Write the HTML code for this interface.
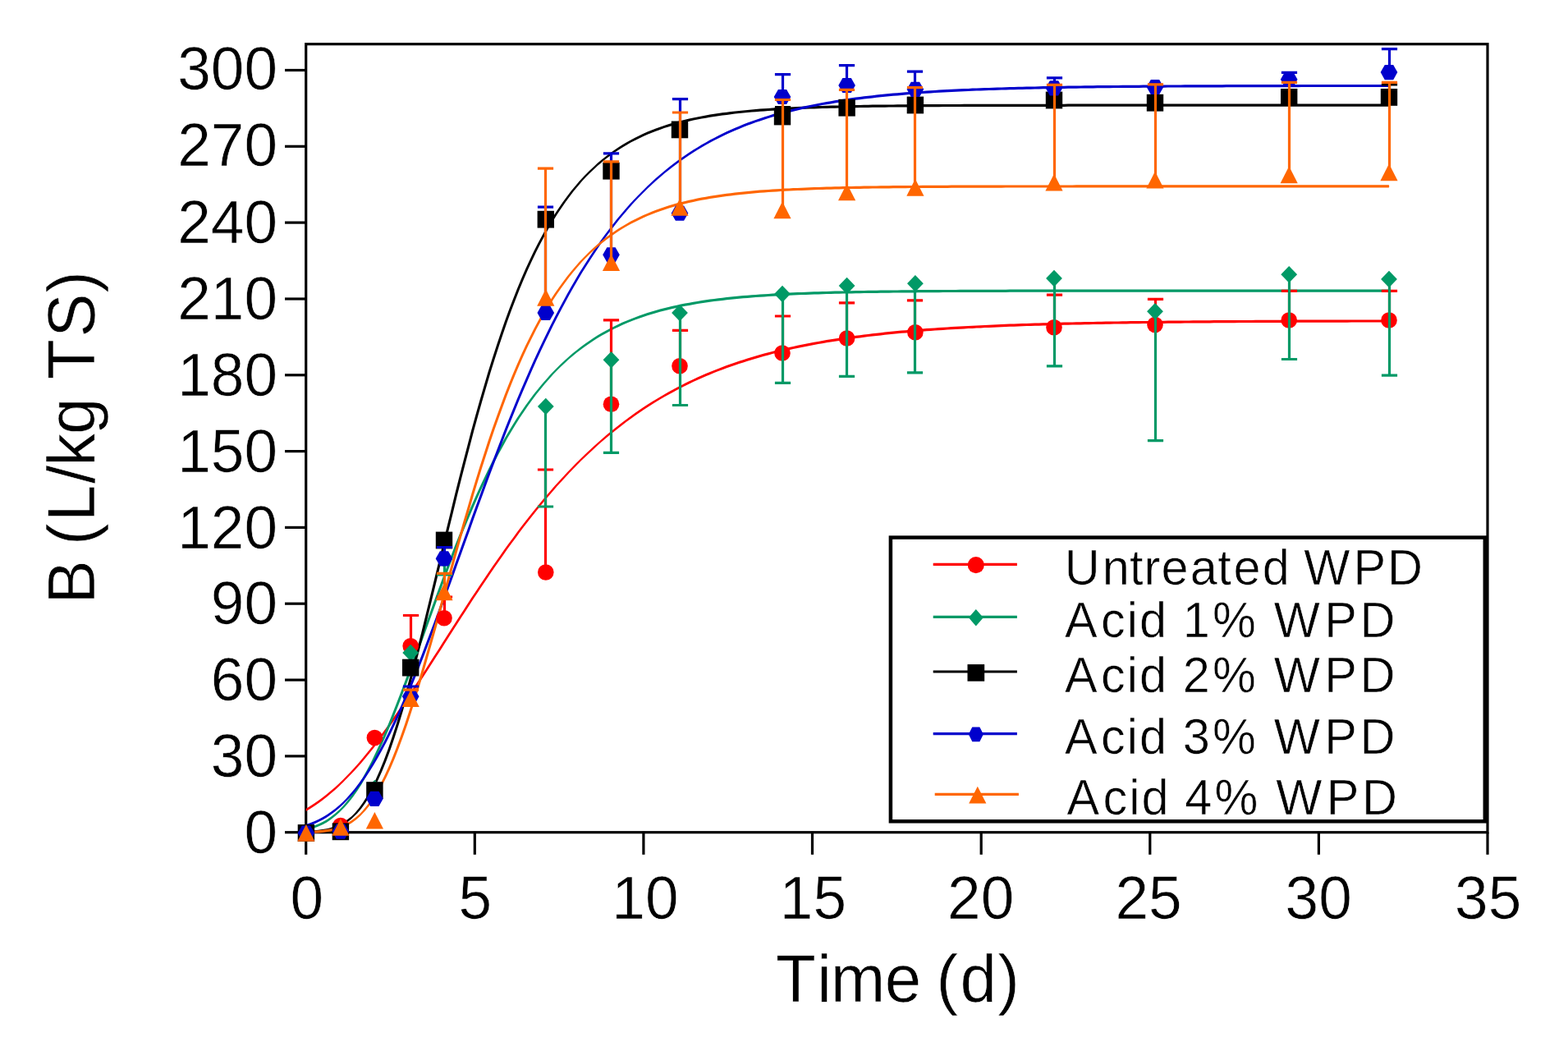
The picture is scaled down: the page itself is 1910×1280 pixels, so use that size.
<!DOCTYPE html>
<html lang="en"><head><meta charset="utf-8"><title>B (L/kg TS)</title>
<style>html,body{margin:0;padding:0;background:#fff}svg{display:block}text{font-family:"Liberation Sans",sans-serif;fill:#000;stroke:#fff;stroke-width:0.6px}</style>
</head><body>
<svg width="1910" height="1280" viewBox="0 0 1910 1280">
<rect x="0" y="0" width="1910" height="1280" fill="#ffffff"/>
<g>
<g stroke="#000" stroke-width="3.2" fill="none" stroke-linecap="butt">
<rect x="372.7" y="53.7" width="1439.3" height="960.0"/>
<line x1="347" y1="1013.7" x2="372.7" y2="1013.7"/>
<line x1="347" y1="920.9" x2="372.7" y2="920.9"/>
<line x1="347" y1="828.1" x2="372.7" y2="828.1"/>
<line x1="347" y1="735.2" x2="372.7" y2="735.2"/>
<line x1="347" y1="642.4" x2="372.7" y2="642.4"/>
<line x1="347" y1="549.6" x2="372.7" y2="549.6"/>
<line x1="347" y1="456.8" x2="372.7" y2="456.8"/>
<line x1="347" y1="364.0" x2="372.7" y2="364.0"/>
<line x1="347" y1="271.1" x2="372.7" y2="271.1"/>
<line x1="347" y1="178.3" x2="372.7" y2="178.3"/>
<line x1="347" y1="85.5" x2="372.7" y2="85.5"/>
<line x1="372.7" y1="1013.7" x2="372.7" y2="1040.8"/>
<line x1="578.3" y1="1013.7" x2="578.3" y2="1040.8"/>
<line x1="783.9" y1="1013.7" x2="783.9" y2="1040.8"/>
<line x1="989.5" y1="1013.7" x2="989.5" y2="1040.8"/>
<line x1="1195.2" y1="1013.7" x2="1195.2" y2="1040.8"/>
<line x1="1400.8" y1="1013.7" x2="1400.8" y2="1040.8"/>
<line x1="1606.4" y1="1013.7" x2="1606.4" y2="1040.8"/>
<line x1="1812.0" y1="1013.7" x2="1812.0" y2="1040.8"/>
</g>
<g stroke="none">
<polygon fill="#ff0000" points="372.7,986.5 372.7,984.9 377.8,981.8 382.8,978.5 387.9,975.0 393.0,971.3 398.1,967.3 403.1,963.1 408.2,958.7 413.3,954.0 418.4,949.1 421.8,945.6 426.9,940.2 432.0,934.7 437.1,928.9 442.1,922.9 447.2,916.8 452.3,910.4 457.3,903.9 462.4,897.2 467.5,890.4 472.6,883.4 477.6,876.2 482.7,868.9 487.8,861.6 492.9,854.1 497.9,846.5 503.0,838.8 508.1,831.1 513.2,823.3 518.2,815.4 523.3,807.5 528.4,799.6 533.5,791.7 538.5,783.7 543.6,775.8 548.7,767.8 553.7,759.9 558.8,752.0 563.9,744.2 569.0,736.3 574.0,728.6 579.1,720.9 584.2,713.2 589.3,705.7 594.3,698.2 599.4,690.8 604.5,683.5 609.6,676.2 614.6,669.1 619.7,662.1 624.8,655.2 629.8,648.3 634.9,641.6 640.0,635.0 645.1,628.6 650.1,622.2 655.2,615.9 660.3,609.8 665.4,603.8 670.4,597.9 675.5,592.1 680.6,586.5 685.7,581.0 690.7,575.5 695.8,570.3 700.9,565.1 707.5,558.4 712.6,553.5 717.7,548.7 722.8,544.0 727.8,539.4 732.9,534.9 738.0,530.6 743.1,526.3 748.1,522.2 753.2,518.2 758.3,514.2 763.4,510.4 768.4,506.7 773.5,503.1 778.6,499.6 783.7,496.1 788.7,492.8 793.8,489.6 798.9,486.4 803.9,483.4 809.0,480.4 814.1,477.5 819.2,474.7 824.2,472.0 829.3,469.4 834.4,466.8 839.5,464.3 844.5,461.9 849.6,459.6 854.7,457.3 859.8,455.1 864.8,453.0 869.9,450.9 875.0,448.9 880.0,447.0 885.1,445.1 890.2,443.3 895.3,441.5 900.3,439.8 905.4,438.2 910.5,436.5 915.6,435.0 920.6,433.5 925.7,432.0 930.8,430.6 935.9,429.2 940.9,427.9 946.0,426.6 951.1,425.4 956.1,424.2 961.2,423.0 966.3,421.9 971.4,420.8 976.4,419.8 981.5,418.7 986.6,417.8 991.7,416.8 996.7,415.9 1001.8,415.0 1006.9,414.1 1012.0,413.3 1017.0,412.5 1022.1,411.7 1027.2,410.9 1032.2,410.2 1037.3,409.5 1042.4,408.8 1047.5,408.2 1052.5,407.5 1057.6,406.9 1062.7,406.3 1067.8,405.7 1072.8,405.2 1077.9,404.6 1083.0,404.1 1088.1,403.6 1093.1,403.1 1098.2,402.6 1103.3,402.2 1108.4,401.7 1113.4,401.3 1118.5,400.9 1123.6,400.5 1128.6,400.1 1133.7,399.7 1138.8,399.4 1143.9,399.0 1148.9,398.7 1154.0,398.4 1159.1,398.1 1164.2,397.8 1169.2,397.5 1174.3,397.2 1179.4,396.9 1184.5,396.7 1189.5,396.4 1194.6,396.2 1199.7,395.9 1204.7,395.7 1209.8,395.5 1214.9,395.2 1220.0,395.0 1225.0,394.8 1230.1,394.6 1235.2,394.5 1240.3,394.3 1245.3,394.1 1250.4,393.9 1255.5,393.8 1260.6,393.6 1265.6,393.5 1270.7,393.3 1275.8,393.2 1280.8,393.0 1285.9,392.9 1291.0,392.8 1296.1,392.6 1301.1,392.5 1306.2,392.4 1311.3,392.3 1316.4,392.2 1321.4,392.1 1326.5,392.0 1331.6,391.9 1336.7,391.8 1341.7,391.7 1346.8,391.6 1351.9,391.5 1357.0,391.4 1362.0,391.4 1367.1,391.3 1372.2,391.2 1377.2,391.1 1382.3,391.1 1387.4,391.0 1392.5,390.9 1397.5,390.9 1402.6,390.8 1407.7,390.8 1412.8,390.7 1417.8,390.7 1422.9,390.6 1428.0,390.6 1433.1,390.5 1438.1,390.5 1443.2,390.4 1448.3,390.4 1453.3,390.3 1458.4,390.3 1463.5,390.2 1468.6,390.2 1473.6,390.2 1478.7,390.1 1483.8,390.1 1488.9,390.1 1493.9,390.0 1499.0,390.0 1504.1,390.0 1509.2,389.9 1514.2,389.9 1519.3,389.9 1524.4,389.9 1529.4,389.8 1534.5,389.8 1539.6,389.8 1544.7,389.8 1549.7,389.7 1554.8,389.7 1559.9,389.7 1565.0,389.7 1570.0,389.7 1575.1,389.6 1580.2,389.6 1585.3,389.6 1590.3,389.6 1595.4,389.6 1600.5,389.6 1605.6,389.5 1610.6,389.5 1615.7,389.5 1620.8,389.5 1625.8,389.5 1630.9,389.5 1636.0,389.5 1641.1,389.5 1646.1,389.4 1651.2,389.4 1656.3,389.4 1661.4,389.4 1666.4,389.4 1671.5,389.4 1676.6,389.4 1681.7,389.4 1686.7,389.4 1691.8,389.4 1692.3,391.0 1691.8,392.6 1686.7,392.6 1681.7,392.6 1676.6,392.6 1671.5,392.6 1666.4,392.6 1661.4,392.6 1656.3,392.6 1651.2,392.6 1646.1,392.6 1641.1,392.7 1636.0,392.7 1630.9,392.7 1625.8,392.7 1620.8,392.7 1615.7,392.7 1610.6,392.7 1605.6,392.7 1600.5,392.8 1595.4,392.8 1590.3,392.8 1585.3,392.8 1580.2,392.8 1575.1,392.8 1570.0,392.9 1565.0,392.9 1559.9,392.9 1554.8,392.9 1549.7,392.9 1544.7,393.0 1539.6,393.0 1534.5,393.0 1529.4,393.0 1524.4,393.1 1519.3,393.1 1514.2,393.1 1509.2,393.1 1504.1,393.2 1499.0,393.2 1493.9,393.2 1488.9,393.3 1483.8,393.3 1478.7,393.3 1473.6,393.4 1468.6,393.4 1463.5,393.4 1458.4,393.5 1453.3,393.5 1448.3,393.6 1443.2,393.6 1438.1,393.7 1433.1,393.7 1428.0,393.8 1422.9,393.8 1417.8,393.9 1412.8,393.9 1407.7,394.0 1402.6,394.0 1397.5,394.1 1392.5,394.1 1387.4,394.2 1382.3,394.3 1377.2,394.3 1372.2,394.4 1367.1,394.5 1362.0,394.6 1357.0,394.6 1351.9,394.7 1346.8,394.8 1341.7,394.9 1336.7,395.0 1331.6,395.1 1326.5,395.2 1321.4,395.3 1316.4,395.4 1311.3,395.5 1306.2,395.6 1301.1,395.7 1296.1,395.8 1291.0,396.0 1285.9,396.1 1280.8,396.2 1275.8,396.4 1270.7,396.5 1265.6,396.7 1260.6,396.8 1255.5,397.0 1250.4,397.1 1245.3,397.3 1240.3,397.5 1235.2,397.7 1230.1,397.8 1225.0,398.0 1220.0,398.2 1214.9,398.4 1209.8,398.7 1204.7,398.9 1199.7,399.1 1194.6,399.4 1189.5,399.6 1184.5,399.9 1179.4,400.1 1174.3,400.4 1169.2,400.7 1164.2,401.0 1159.1,401.3 1154.0,401.6 1148.9,401.9 1143.9,402.2 1138.8,402.6 1133.7,402.9 1128.6,403.3 1123.6,403.7 1118.5,404.1 1113.4,404.5 1108.4,404.9 1103.3,405.4 1098.2,405.8 1093.1,406.3 1088.1,406.8 1083.0,407.3 1077.9,407.8 1072.8,408.4 1067.8,408.9 1062.7,409.5 1057.6,410.1 1052.5,410.7 1047.5,411.4 1042.4,412.0 1037.3,412.7 1032.2,413.4 1027.2,414.1 1022.1,414.9 1017.0,415.7 1012.0,416.5 1006.9,417.3 1001.8,418.2 996.7,419.1 991.7,420.0 986.6,421.0 981.5,421.9 976.4,423.0 971.4,424.0 966.3,425.1 961.2,426.2 956.1,427.4 951.1,428.6 946.0,429.8 940.9,431.1 935.9,432.4 930.8,433.8 925.7,435.2 920.6,436.7 915.6,438.2 910.5,439.7 905.4,441.4 900.3,443.0 895.3,444.7 890.2,446.5 885.1,448.3 880.0,450.2 875.0,452.1 869.9,454.1 864.8,456.2 859.8,458.3 854.7,460.5 849.6,462.8 844.5,465.1 839.5,467.5 834.4,470.0 829.3,472.6 824.2,475.2 819.2,477.9 814.1,480.7 809.0,483.6 803.9,486.6 798.9,489.6 793.8,492.8 788.7,496.0 783.7,499.3 778.6,502.8 773.5,506.3 768.4,509.9 763.4,513.6 758.3,517.4 753.2,521.4 748.1,525.4 743.1,529.5 738.0,533.8 732.9,538.1 727.8,542.6 722.8,547.2 717.7,551.9 712.6,556.7 707.5,561.6 704.1,565.1 699.0,570.3 693.9,575.5 688.9,581.0 683.8,586.5 678.7,592.1 673.6,597.9 668.6,603.8 663.5,609.8 658.4,615.9 653.3,622.2 648.3,628.6 643.2,635.0 638.1,641.6 633.0,648.3 628.0,655.2 622.9,662.1 617.8,669.1 612.8,676.2 607.7,683.5 602.6,690.8 597.5,698.2 592.5,705.7 587.4,713.2 582.3,720.9 577.2,728.6 572.2,736.3 567.1,744.2 562.0,752.0 556.9,759.9 551.9,767.8 546.8,775.8 541.7,783.7 536.7,791.7 531.6,799.6 526.5,807.5 521.4,815.4 516.4,823.3 511.3,831.1 506.2,838.8 501.1,846.5 496.1,854.1 491.0,861.6 485.9,868.9 480.8,876.2 475.8,883.4 470.7,890.4 465.6,897.2 460.5,903.9 455.5,910.4 450.4,916.8 445.3,922.9 440.3,928.9 435.2,934.7 430.1,940.2 425.0,945.6 418.4,952.3 413.3,957.2 408.2,961.9 403.1,966.3 398.1,970.5 393.0,974.5 387.9,978.2 382.8,981.7 377.8,985.0 372.7,988.1"/>
<polygon fill="#009966" points="372.7,1009.9 372.7,1008.3 377.8,1007.0 382.8,1005.4 387.9,1003.4 393.0,1001.0 398.1,998.2 403.1,994.8 408.2,990.8 413.3,986.3 416.8,982.7 421.8,976.9 426.9,970.4 432.0,963.2 437.1,955.4 442.1,946.8 447.2,937.6 452.3,927.8 457.3,917.3 462.4,906.3 467.5,894.8 472.6,882.7 477.6,870.2 482.7,857.3 487.8,844.1 492.9,830.6 497.9,816.9 503.0,803.1 508.1,789.1 513.2,775.0 518.2,760.9 523.3,746.9 528.4,733.0 533.5,719.1 538.5,705.4 543.6,691.9 548.7,678.6 553.7,665.6 558.8,652.8 563.9,640.4 569.0,628.2 574.0,616.4 579.1,604.9 584.2,593.7 589.3,582.9 594.3,572.4 599.4,562.3 604.5,552.5 609.6,543.2 614.6,534.1 619.7,525.4 624.8,517.1 629.8,509.1 634.9,501.4 640.0,494.0 645.1,487.0 650.1,480.3 655.2,473.9 660.3,467.7 665.4,461.9 670.4,456.3 675.5,451.0 682.2,444.3 687.3,439.5 692.3,434.9 697.4,430.6 702.5,426.4 707.5,422.5 712.6,418.8 717.7,415.2 722.8,411.8 727.8,408.6 732.9,405.6 738.0,402.7 743.1,400.0 748.1,397.4 753.2,395.0 758.3,392.6 763.4,390.4 768.4,388.4 773.5,386.4 778.6,384.5 783.7,382.8 788.7,381.1 793.8,379.5 798.9,378.0 803.9,376.6 809.0,375.3 814.1,374.0 819.2,372.8 824.2,371.7 829.3,370.6 834.4,369.6 839.5,368.7 844.5,367.8 849.6,366.9 854.7,366.1 859.8,365.3 864.8,364.6 869.9,363.9 875.0,363.3 880.0,362.7 885.1,362.1 890.2,361.6 895.3,361.1 900.3,360.6 905.4,360.1 910.5,359.7 915.6,359.3 920.6,358.9 925.7,358.5 930.8,358.2 935.9,357.9 940.9,357.6 946.0,357.3 951.1,357.0 956.1,356.8 961.2,356.5 966.3,356.3 971.4,356.1 976.4,355.9 981.5,355.7 986.6,355.5 991.7,355.3 996.7,355.2 1001.8,355.0 1006.9,354.9 1012.0,354.7 1017.0,354.6 1022.1,354.5 1027.2,354.4 1032.2,354.3 1037.3,354.2 1042.4,354.1 1047.5,354.0 1052.5,353.9 1057.6,353.8 1062.7,353.7 1067.8,353.7 1072.8,353.6 1077.9,353.5 1083.0,353.5 1088.1,353.4 1093.1,353.4 1098.2,353.3 1103.3,353.3 1108.4,353.2 1113.4,353.2 1118.5,353.1 1123.6,353.1 1128.6,353.1 1133.7,353.0 1138.8,353.0 1143.9,353.0 1148.9,352.9 1154.0,352.9 1159.1,352.9 1164.2,352.9 1169.2,352.8 1174.3,352.8 1179.4,352.8 1184.5,352.8 1189.5,352.8 1194.6,352.7 1199.7,352.7 1204.7,352.7 1209.8,352.7 1214.9,352.7 1220.0,352.7 1225.0,352.7 1230.1,352.6 1235.2,352.6 1240.3,352.6 1245.3,352.6 1250.4,352.6 1255.5,352.6 1260.6,352.6 1265.6,352.6 1270.7,352.6 1275.8,352.6 1280.8,352.6 1285.9,352.6 1291.0,352.6 1296.1,352.5 1301.1,352.5 1306.2,352.5 1311.3,352.5 1316.4,352.5 1321.4,352.5 1326.5,352.5 1331.6,352.5 1336.7,352.5 1341.7,352.5 1346.8,352.5 1351.9,352.5 1357.0,352.5 1362.0,352.5 1367.1,352.5 1372.2,352.5 1377.2,352.5 1382.3,352.5 1387.4,352.5 1392.5,352.5 1397.5,352.5 1402.6,352.5 1407.7,352.5 1412.8,352.5 1417.8,352.5 1422.9,352.5 1428.0,352.5 1433.1,352.5 1438.1,352.5 1443.2,352.5 1448.3,352.5 1453.3,352.5 1458.4,352.5 1463.5,352.5 1468.6,352.5 1473.6,352.5 1478.7,352.5 1483.8,352.5 1488.9,352.5 1493.9,352.5 1499.0,352.5 1504.1,352.5 1509.2,352.5 1514.2,352.5 1519.3,352.5 1524.4,352.5 1529.4,352.5 1534.5,352.5 1539.6,352.5 1544.7,352.5 1549.7,352.5 1554.8,352.5 1559.9,352.5 1565.0,352.5 1570.0,352.5 1575.1,352.5 1580.2,352.5 1585.3,352.5 1590.3,352.5 1595.4,352.5 1600.5,352.5 1605.6,352.5 1610.6,352.5 1615.7,352.5 1620.8,352.5 1625.8,352.5 1630.9,352.5 1636.0,352.5 1641.1,352.5 1646.1,352.5 1651.2,352.5 1656.3,352.5 1661.4,352.5 1666.4,352.5 1671.5,352.5 1676.6,352.5 1681.7,352.5 1686.7,352.5 1691.8,352.5 1692.3,354.1 1691.8,355.7 1686.7,355.7 1681.7,355.7 1676.6,355.7 1671.5,355.7 1666.4,355.7 1661.4,355.7 1656.3,355.7 1651.2,355.7 1646.1,355.7 1641.1,355.7 1636.0,355.7 1630.9,355.7 1625.8,355.7 1620.8,355.7 1615.7,355.7 1610.6,355.7 1605.6,355.7 1600.5,355.7 1595.4,355.7 1590.3,355.7 1585.3,355.7 1580.2,355.7 1575.1,355.7 1570.0,355.7 1565.0,355.7 1559.9,355.7 1554.8,355.7 1549.7,355.7 1544.7,355.7 1539.6,355.7 1534.5,355.7 1529.4,355.7 1524.4,355.7 1519.3,355.7 1514.2,355.7 1509.2,355.7 1504.1,355.7 1499.0,355.7 1493.9,355.7 1488.9,355.7 1483.8,355.7 1478.7,355.7 1473.6,355.7 1468.6,355.7 1463.5,355.7 1458.4,355.7 1453.3,355.7 1448.3,355.7 1443.2,355.7 1438.1,355.7 1433.1,355.7 1428.0,355.7 1422.9,355.7 1417.8,355.7 1412.8,355.7 1407.7,355.7 1402.6,355.7 1397.5,355.7 1392.5,355.7 1387.4,355.7 1382.3,355.7 1377.2,355.7 1372.2,355.7 1367.1,355.7 1362.0,355.7 1357.0,355.7 1351.9,355.7 1346.8,355.7 1341.7,355.7 1336.7,355.7 1331.6,355.7 1326.5,355.7 1321.4,355.7 1316.4,355.7 1311.3,355.7 1306.2,355.7 1301.1,355.7 1296.1,355.7 1291.0,355.8 1285.9,355.8 1280.8,355.8 1275.8,355.8 1270.7,355.8 1265.6,355.8 1260.6,355.8 1255.5,355.8 1250.4,355.8 1245.3,355.8 1240.3,355.8 1235.2,355.8 1230.1,355.8 1225.0,355.9 1220.0,355.9 1214.9,355.9 1209.8,355.9 1204.7,355.9 1199.7,355.9 1194.6,355.9 1189.5,356.0 1184.5,356.0 1179.4,356.0 1174.3,356.0 1169.2,356.0 1164.2,356.1 1159.1,356.1 1154.0,356.1 1148.9,356.1 1143.9,356.2 1138.8,356.2 1133.7,356.2 1128.6,356.3 1123.6,356.3 1118.5,356.3 1113.4,356.4 1108.4,356.4 1103.3,356.5 1098.2,356.5 1093.1,356.6 1088.1,356.6 1083.0,356.7 1077.9,356.7 1072.8,356.8 1067.8,356.9 1062.7,356.9 1057.6,357.0 1052.5,357.1 1047.5,357.2 1042.4,357.3 1037.3,357.4 1032.2,357.5 1027.2,357.6 1022.1,357.7 1017.0,357.8 1012.0,357.9 1006.9,358.1 1001.8,358.2 996.7,358.4 991.7,358.5 986.6,358.7 981.5,358.9 976.4,359.1 971.4,359.3 966.3,359.5 961.2,359.7 956.1,360.0 951.1,360.2 946.0,360.5 940.9,360.8 935.9,361.1 930.8,361.4 925.7,361.7 920.6,362.1 915.6,362.5 910.5,362.9 905.4,363.3 900.3,363.8 895.3,364.3 890.2,364.8 885.1,365.3 880.0,365.9 875.0,366.5 869.9,367.1 864.8,367.8 859.8,368.5 854.7,369.3 849.6,370.1 844.5,371.0 839.5,371.9 834.4,372.8 829.3,373.8 824.2,374.9 819.2,376.0 814.1,377.2 809.0,378.5 803.9,379.8 798.9,381.2 793.8,382.7 788.7,384.3 783.7,386.0 778.6,387.7 773.5,389.6 768.4,391.6 763.4,393.6 758.3,395.8 753.2,398.2 748.1,400.6 743.1,403.2 738.0,405.9 732.9,408.8 727.8,411.8 722.8,415.0 717.7,418.4 712.6,422.0 707.5,425.7 702.5,429.6 697.4,433.8 692.3,438.1 687.3,442.7 682.2,447.5 678.7,451.0 673.6,456.3 668.6,461.9 663.5,467.7 658.4,473.9 653.3,480.3 648.3,487.0 643.2,494.0 638.1,501.4 633.0,509.1 628.0,517.1 622.9,525.4 617.8,534.1 612.8,543.2 607.7,552.5 602.6,562.3 597.5,572.4 592.5,582.9 587.4,593.7 582.3,604.9 577.2,616.4 572.2,628.2 567.1,640.4 562.0,652.8 556.9,665.6 551.9,678.6 546.8,691.9 541.7,705.4 536.7,719.1 531.6,733.0 526.5,746.9 521.4,760.9 516.4,775.0 511.3,789.1 506.2,803.1 501.1,816.9 496.1,830.6 491.0,844.1 485.9,857.3 480.8,870.2 475.8,882.7 470.7,894.8 465.6,906.3 460.5,917.3 455.5,927.8 450.4,937.6 445.3,946.8 440.3,955.4 435.2,963.2 430.1,970.4 425.0,976.9 420.0,982.7 413.3,989.5 408.2,994.0 403.1,998.0 398.1,1001.4 393.0,1004.2 387.9,1006.6 382.8,1008.6 377.8,1010.2 372.7,1011.5"/>
<polygon fill="#000000" points="372.7,1013.4 372.7,1011.8 377.8,1011.6 382.8,1011.3 387.9,1010.8 393.0,1010.1 398.1,1009.2 403.1,1008.0 408.2,1006.3 413.3,1004.2 418.4,1001.5 423.4,998.1 428.5,993.9 432.0,990.5 437.1,984.6 442.1,977.6 447.2,969.6 452.3,960.5 457.3,950.2 462.4,938.8 467.5,926.2 472.6,912.6 477.6,897.8 482.7,882.1 487.8,865.3 492.9,847.8 497.9,829.4 503.0,810.3 508.1,790.6 513.2,770.5 518.2,750.0 523.3,729.2 528.4,708.2 533.5,687.1 538.5,666.0 543.6,645.0 548.7,624.2 553.7,603.6 558.8,583.3 563.9,563.4 569.0,543.9 574.0,524.8 579.1,506.3 584.2,488.2 589.3,470.7 594.3,453.8 599.4,437.5 604.5,421.8 609.6,406.6 614.6,392.1 619.7,378.1 624.8,364.8 629.8,352.0 634.9,339.8 640.0,328.1 645.1,317.1 650.1,306.5 655.2,296.4 660.3,286.9 665.4,277.8 670.4,269.3 675.5,261.1 680.6,253.4 685.7,246.1 690.7,239.2 695.8,232.6 700.9,226.5 705.9,220.6 711.0,215.1 717.7,208.3 722.8,203.5 727.8,198.8 732.9,194.5 738.0,190.4 743.1,186.5 748.1,182.9 753.2,179.5 758.3,176.2 763.4,173.2 768.4,170.4 773.5,167.7 778.6,165.2 783.7,162.8 788.7,160.6 793.8,158.5 798.9,156.5 803.9,154.7 809.0,152.9 814.1,151.3 819.2,149.8 824.2,148.3 829.3,147.0 834.4,145.7 839.5,144.5 844.5,143.4 849.6,142.4 854.7,141.4 859.8,140.5 864.8,139.6 869.9,138.8 875.0,138.0 880.0,137.3 885.1,136.7 890.2,136.0 895.3,135.4 900.3,134.9 905.4,134.4 910.5,133.9 915.6,133.4 920.6,133.0 925.7,132.6 930.8,132.2 935.9,131.9 940.9,131.5 946.0,131.2 951.1,130.9 956.1,130.7 961.2,130.4 966.3,130.2 971.4,130.0 976.4,129.7 981.5,129.5 986.6,129.4 991.7,129.2 996.7,129.0 1001.8,128.9 1006.9,128.7 1012.0,128.6 1017.0,128.5 1022.1,128.4 1027.2,128.2 1032.2,128.1 1037.3,128.0 1042.4,128.0 1047.5,127.9 1052.5,127.8 1057.6,127.7 1062.7,127.6 1067.8,127.6 1072.8,127.5 1077.9,127.5 1083.0,127.4 1088.1,127.4 1093.1,127.3 1098.2,127.3 1103.3,127.2 1108.4,127.2 1113.4,127.1 1118.5,127.1 1123.6,127.1 1128.6,127.0 1133.7,127.0 1138.8,127.0 1143.9,127.0 1148.9,126.9 1154.0,126.9 1159.1,126.9 1164.2,126.9 1169.2,126.9 1174.3,126.8 1179.4,126.8 1184.5,126.8 1189.5,126.8 1194.6,126.8 1199.7,126.8 1204.7,126.8 1209.8,126.8 1214.9,126.7 1220.0,126.7 1225.0,126.7 1230.1,126.7 1235.2,126.7 1240.3,126.7 1245.3,126.7 1250.4,126.7 1255.5,126.7 1260.6,126.7 1265.6,126.7 1270.7,126.7 1275.8,126.7 1280.8,126.7 1285.9,126.7 1291.0,126.7 1296.1,126.7 1301.1,126.6 1306.2,126.6 1311.3,126.6 1316.4,126.6 1321.4,126.6 1326.5,126.6 1331.6,126.6 1336.7,126.6 1341.7,126.6 1346.8,126.6 1351.9,126.6 1357.0,126.6 1362.0,126.6 1367.1,126.6 1372.2,126.6 1377.2,126.6 1382.3,126.6 1387.4,126.6 1392.5,126.6 1397.5,126.6 1402.6,126.6 1407.7,126.6 1412.8,126.6 1417.8,126.6 1422.9,126.6 1428.0,126.6 1433.1,126.6 1438.1,126.6 1443.2,126.6 1448.3,126.6 1453.3,126.6 1458.4,126.6 1463.5,126.6 1468.6,126.6 1473.6,126.6 1478.7,126.6 1483.8,126.6 1488.9,126.6 1493.9,126.6 1499.0,126.6 1504.1,126.6 1509.2,126.6 1514.2,126.6 1519.3,126.6 1524.4,126.6 1529.4,126.6 1534.5,126.6 1539.6,126.6 1544.7,126.6 1549.7,126.6 1554.8,126.6 1559.9,126.6 1565.0,126.6 1570.0,126.6 1575.1,126.6 1580.2,126.6 1585.3,126.6 1590.3,126.6 1595.4,126.6 1600.5,126.6 1605.6,126.6 1610.6,126.6 1615.7,126.6 1620.8,126.6 1625.8,126.6 1630.9,126.6 1636.0,126.6 1641.1,126.6 1646.1,126.6 1651.2,126.6 1656.3,126.6 1661.4,126.6 1666.4,126.6 1671.5,126.6 1676.6,126.6 1681.7,126.6 1686.7,126.6 1691.8,126.6 1692.3,128.2 1691.8,129.8 1686.7,129.8 1681.7,129.8 1676.6,129.8 1671.5,129.8 1666.4,129.8 1661.4,129.8 1656.3,129.8 1651.2,129.8 1646.1,129.8 1641.1,129.8 1636.0,129.8 1630.9,129.8 1625.8,129.8 1620.8,129.8 1615.7,129.8 1610.6,129.8 1605.6,129.8 1600.5,129.8 1595.4,129.8 1590.3,129.8 1585.3,129.8 1580.2,129.8 1575.1,129.8 1570.0,129.8 1565.0,129.8 1559.9,129.8 1554.8,129.8 1549.7,129.8 1544.7,129.8 1539.6,129.8 1534.5,129.8 1529.4,129.8 1524.4,129.8 1519.3,129.8 1514.2,129.8 1509.2,129.8 1504.1,129.8 1499.0,129.8 1493.9,129.8 1488.9,129.8 1483.8,129.8 1478.7,129.8 1473.6,129.8 1468.6,129.8 1463.5,129.8 1458.4,129.8 1453.3,129.8 1448.3,129.8 1443.2,129.8 1438.1,129.8 1433.1,129.8 1428.0,129.8 1422.9,129.8 1417.8,129.8 1412.8,129.8 1407.7,129.8 1402.6,129.8 1397.5,129.8 1392.5,129.8 1387.4,129.8 1382.3,129.8 1377.2,129.8 1372.2,129.8 1367.1,129.8 1362.0,129.8 1357.0,129.8 1351.9,129.8 1346.8,129.8 1341.7,129.8 1336.7,129.8 1331.6,129.8 1326.5,129.8 1321.4,129.8 1316.4,129.8 1311.3,129.8 1306.2,129.8 1301.1,129.8 1296.1,129.9 1291.0,129.9 1285.9,129.9 1280.8,129.9 1275.8,129.9 1270.7,129.9 1265.6,129.9 1260.6,129.9 1255.5,129.9 1250.4,129.9 1245.3,129.9 1240.3,129.9 1235.2,129.9 1230.1,129.9 1225.0,129.9 1220.0,129.9 1214.9,129.9 1209.8,130.0 1204.7,130.0 1199.7,130.0 1194.6,130.0 1189.5,130.0 1184.5,130.0 1179.4,130.0 1174.3,130.0 1169.2,130.1 1164.2,130.1 1159.1,130.1 1154.0,130.1 1148.9,130.1 1143.9,130.2 1138.8,130.2 1133.7,130.2 1128.6,130.2 1123.6,130.3 1118.5,130.3 1113.4,130.3 1108.4,130.4 1103.3,130.4 1098.2,130.5 1093.1,130.5 1088.1,130.6 1083.0,130.6 1077.9,130.7 1072.8,130.7 1067.8,130.8 1062.7,130.8 1057.6,130.9 1052.5,131.0 1047.5,131.1 1042.4,131.2 1037.3,131.2 1032.2,131.3 1027.2,131.4 1022.1,131.6 1017.0,131.7 1012.0,131.8 1006.9,131.9 1001.8,132.1 996.7,132.2 991.7,132.4 986.6,132.6 981.5,132.7 976.4,132.9 971.4,133.2 966.3,133.4 961.2,133.6 956.1,133.9 951.1,134.1 946.0,134.4 940.9,134.7 935.9,135.1 930.8,135.4 925.7,135.8 920.6,136.2 915.6,136.6 910.5,137.1 905.4,137.6 900.3,138.1 895.3,138.6 890.2,139.2 885.1,139.9 880.0,140.5 875.0,141.2 869.9,142.0 864.8,142.8 859.8,143.7 854.7,144.6 849.6,145.6 844.5,146.6 839.5,147.7 834.4,148.9 829.3,150.2 824.2,151.5 819.2,153.0 814.1,154.5 809.0,156.1 803.9,157.9 798.9,159.7 793.8,161.7 788.7,163.8 783.7,166.0 778.6,168.4 773.5,170.9 768.4,173.6 763.4,176.4 758.3,179.4 753.2,182.7 748.1,186.1 743.1,189.7 738.0,193.6 732.9,197.7 727.8,202.0 722.8,206.7 717.7,211.5 714.2,215.1 709.1,220.6 704.1,226.5 699.0,232.6 693.9,239.2 688.9,246.1 683.8,253.4 678.7,261.1 673.6,269.3 668.6,277.8 663.5,286.9 658.4,296.4 653.3,306.5 648.3,317.1 643.2,328.1 638.1,339.8 633.0,352.0 628.0,364.8 622.9,378.1 617.8,392.1 612.8,406.6 607.7,421.8 602.6,437.5 597.5,453.8 592.5,470.7 587.4,488.2 582.3,506.3 577.2,524.8 572.2,543.9 567.1,563.4 562.0,583.3 556.9,603.6 551.9,624.2 546.8,645.0 541.7,666.0 536.7,687.1 531.6,708.2 526.5,729.2 521.4,750.0 516.4,770.5 511.3,790.6 506.2,810.3 501.1,829.4 496.1,847.8 491.0,865.3 485.9,882.1 480.8,897.8 475.8,912.6 470.7,926.2 465.6,938.8 460.5,950.2 455.5,960.5 450.4,969.6 445.3,977.6 440.3,984.6 435.2,990.5 428.5,997.1 423.4,1001.3 418.4,1004.7 413.3,1007.4 408.2,1009.5 403.1,1011.2 398.1,1012.4 393.0,1013.3 387.9,1014.0 382.8,1014.5 377.8,1014.8 372.7,1015.0"/>
<polygon fill="#0000cc" points="372.7,1005.6 372.7,1004.0 377.8,1002.3 382.8,1000.3 387.9,997.9 393.0,995.3 398.1,992.2 403.1,988.8 408.2,985.0 413.3,980.7 418.4,976.0 421.8,972.5 426.9,966.8 432.0,960.7 437.1,954.0 442.1,946.9 447.2,939.2 452.3,931.1 457.3,922.5 462.4,913.3 467.5,903.7 472.6,893.6 477.6,883.1 482.7,872.2 487.8,860.8 492.9,849.1 497.9,837.0 503.0,824.5 508.1,811.8 513.2,798.8 518.2,785.5 523.3,772.1 528.4,758.4 533.5,744.6 538.5,730.6 543.6,716.6 548.7,702.5 553.7,688.3 558.8,674.2 563.9,660.0 569.0,645.9 574.0,631.8 579.1,617.8 584.2,603.9 589.3,590.1 594.3,576.5 599.4,563.0 604.5,549.7 609.6,536.5 614.6,523.6 619.7,510.8 624.8,498.3 629.8,486.0 634.9,474.0 640.0,462.2 645.1,450.6 650.1,439.3 655.2,428.3 660.3,417.5 665.4,406.9 670.4,396.7 675.5,386.7 680.6,376.9 685.7,367.4 690.7,358.2 695.8,349.2 700.9,340.5 705.9,332.1 711.0,323.9 716.1,315.9 721.2,308.2 726.2,300.7 731.3,293.5 736.4,286.5 741.5,279.7 746.5,273.2 751.6,266.8 756.7,260.7 761.8,254.8 766.8,249.1 771.9,243.6 777.0,238.2 783.7,231.5 788.7,226.5 793.8,221.8 798.9,217.1 803.9,212.7 809.0,208.4 814.1,204.3 819.2,200.3 824.2,196.5 829.3,192.8 834.4,189.2 839.5,185.8 844.5,182.5 849.6,179.4 854.7,176.3 859.8,173.4 864.8,170.6 869.9,167.9 875.0,165.3 880.0,162.7 885.1,160.3 890.2,158.0 895.3,155.8 900.3,153.7 905.4,151.6 910.5,149.6 915.6,147.7 920.6,145.9 925.7,144.2 930.8,142.5 935.9,140.9 940.9,139.3 946.0,137.8 951.1,136.4 956.1,135.0 961.2,133.7 966.3,132.5 971.4,131.3 976.4,130.1 981.5,129.0 986.6,127.9 991.7,126.9 996.7,125.9 1001.8,124.9 1006.9,124.0 1012.0,123.2 1017.0,122.3 1022.1,121.5 1027.2,120.7 1032.2,120.0 1037.3,119.3 1042.4,118.6 1047.5,118.0 1052.5,117.3 1057.6,116.7 1062.7,116.2 1067.8,115.6 1072.8,115.1 1077.9,114.6 1083.0,114.1 1088.1,113.6 1093.1,113.2 1098.2,112.7 1103.3,112.3 1108.4,111.9 1113.4,111.6 1118.5,111.2 1123.6,110.9 1128.6,110.5 1133.7,110.2 1138.8,109.9 1143.9,109.6 1148.9,109.3 1154.0,109.0 1159.1,108.8 1164.2,108.5 1169.2,108.3 1174.3,108.1 1179.4,107.9 1184.5,107.6 1189.5,107.4 1194.6,107.2 1199.7,107.1 1204.7,106.9 1209.8,106.7 1214.9,106.5 1220.0,106.4 1225.0,106.2 1230.1,106.1 1235.2,106.0 1240.3,105.8 1245.3,105.7 1250.4,105.6 1255.5,105.5 1260.6,105.4 1265.6,105.2 1270.7,105.1 1275.8,105.0 1280.8,105.0 1285.9,104.9 1291.0,104.8 1296.1,104.7 1301.1,104.6 1306.2,104.5 1311.3,104.5 1316.4,104.4 1321.4,104.3 1326.5,104.3 1331.6,104.2 1336.7,104.1 1341.7,104.1 1346.8,104.0 1351.9,104.0 1357.0,103.9 1362.0,103.9 1367.1,103.8 1372.2,103.8 1377.2,103.7 1382.3,103.7 1387.4,103.7 1392.5,103.6 1397.5,103.6 1402.6,103.6 1407.7,103.5 1412.8,103.5 1417.8,103.5 1422.9,103.4 1428.0,103.4 1433.1,103.4 1438.1,103.4 1443.2,103.3 1448.3,103.3 1453.3,103.3 1458.4,103.3 1463.5,103.2 1468.6,103.2 1473.6,103.2 1478.7,103.2 1483.8,103.2 1488.9,103.2 1493.9,103.1 1499.0,103.1 1504.1,103.1 1509.2,103.1 1514.2,103.1 1519.3,103.1 1524.4,103.1 1529.4,103.0 1534.5,103.0 1539.6,103.0 1544.7,103.0 1549.7,103.0 1554.8,103.0 1559.9,103.0 1565.0,103.0 1570.0,103.0 1575.1,103.0 1580.2,103.0 1585.3,102.9 1590.3,102.9 1595.4,102.9 1600.5,102.9 1605.6,102.9 1610.6,102.9 1615.7,102.9 1620.8,102.9 1625.8,102.9 1630.9,102.9 1636.0,102.9 1641.1,102.9 1646.1,102.9 1651.2,102.9 1656.3,102.9 1661.4,102.9 1666.4,102.9 1671.5,102.9 1676.6,102.9 1681.7,102.9 1686.7,102.8 1691.8,102.8 1692.3,104.4 1691.8,106.0 1686.7,106.0 1681.7,106.1 1676.6,106.1 1671.5,106.1 1666.4,106.1 1661.4,106.1 1656.3,106.1 1651.2,106.1 1646.1,106.1 1641.1,106.1 1636.0,106.1 1630.9,106.1 1625.8,106.1 1620.8,106.1 1615.7,106.1 1610.6,106.1 1605.6,106.1 1600.5,106.1 1595.4,106.1 1590.3,106.1 1585.3,106.1 1580.2,106.2 1575.1,106.2 1570.0,106.2 1565.0,106.2 1559.9,106.2 1554.8,106.2 1549.7,106.2 1544.7,106.2 1539.6,106.2 1534.5,106.2 1529.4,106.2 1524.4,106.3 1519.3,106.3 1514.2,106.3 1509.2,106.3 1504.1,106.3 1499.0,106.3 1493.9,106.3 1488.9,106.4 1483.8,106.4 1478.7,106.4 1473.6,106.4 1468.6,106.4 1463.5,106.4 1458.4,106.5 1453.3,106.5 1448.3,106.5 1443.2,106.5 1438.1,106.6 1433.1,106.6 1428.0,106.6 1422.9,106.6 1417.8,106.7 1412.8,106.7 1407.7,106.7 1402.6,106.8 1397.5,106.8 1392.5,106.8 1387.4,106.9 1382.3,106.9 1377.2,106.9 1372.2,107.0 1367.1,107.0 1362.0,107.1 1357.0,107.1 1351.9,107.2 1346.8,107.2 1341.7,107.3 1336.7,107.3 1331.6,107.4 1326.5,107.5 1321.4,107.5 1316.4,107.6 1311.3,107.7 1306.2,107.7 1301.1,107.8 1296.1,107.9 1291.0,108.0 1285.9,108.1 1280.8,108.2 1275.8,108.2 1270.7,108.3 1265.6,108.4 1260.6,108.6 1255.5,108.7 1250.4,108.8 1245.3,108.9 1240.3,109.0 1235.2,109.2 1230.1,109.3 1225.0,109.4 1220.0,109.6 1214.9,109.7 1209.8,109.9 1204.7,110.1 1199.7,110.3 1194.6,110.4 1189.5,110.6 1184.5,110.8 1179.4,111.1 1174.3,111.3 1169.2,111.5 1164.2,111.7 1159.1,112.0 1154.0,112.2 1148.9,112.5 1143.9,112.8 1138.8,113.1 1133.7,113.4 1128.6,113.7 1123.6,114.1 1118.5,114.4 1113.4,114.8 1108.4,115.1 1103.3,115.5 1098.2,115.9 1093.1,116.4 1088.1,116.8 1083.0,117.3 1077.9,117.8 1072.8,118.3 1067.8,118.8 1062.7,119.4 1057.6,119.9 1052.5,120.5 1047.5,121.2 1042.4,121.8 1037.3,122.5 1032.2,123.2 1027.2,123.9 1022.1,124.7 1017.0,125.5 1012.0,126.4 1006.9,127.2 1001.8,128.1 996.7,129.1 991.7,130.1 986.6,131.1 981.5,132.2 976.4,133.3 971.4,134.5 966.3,135.7 961.2,136.9 956.1,138.2 951.1,139.6 946.0,141.0 940.9,142.5 935.9,144.1 930.8,145.7 925.7,147.4 920.6,149.1 915.6,150.9 910.5,152.8 905.4,154.8 900.3,156.9 895.3,159.0 890.2,161.2 885.1,163.5 880.0,165.9 875.0,168.5 869.9,171.1 864.8,173.8 859.8,176.6 854.7,179.5 849.6,182.6 844.5,185.7 839.5,189.0 834.4,192.4 829.3,196.0 824.2,199.7 819.2,203.5 814.1,207.5 809.0,211.6 803.9,215.9 798.9,220.3 793.8,225.0 788.7,229.7 783.7,234.7 780.2,238.2 775.1,243.6 770.0,249.1 765.0,254.8 759.9,260.7 754.8,266.8 749.7,273.2 744.7,279.7 739.6,286.5 734.5,293.5 729.4,300.7 724.4,308.2 719.3,315.9 714.2,323.9 709.1,332.1 704.1,340.5 699.0,349.2 693.9,358.2 688.9,367.4 683.8,376.9 678.7,386.7 673.6,396.7 668.6,406.9 663.5,417.5 658.4,428.3 653.3,439.3 648.3,450.6 643.2,462.2 638.1,474.0 633.0,486.0 628.0,498.3 622.9,510.8 617.8,523.6 612.8,536.5 607.7,549.7 602.6,563.0 597.5,576.5 592.5,590.1 587.4,603.9 582.3,617.8 577.2,631.8 572.2,645.9 567.1,660.0 562.0,674.2 556.9,688.3 551.9,702.5 546.8,716.6 541.7,730.6 536.7,744.6 531.6,758.4 526.5,772.1 521.4,785.5 516.4,798.8 511.3,811.8 506.2,824.5 501.1,837.0 496.1,849.1 491.0,860.8 485.9,872.2 480.8,883.1 475.8,893.6 470.7,903.7 465.6,913.3 460.5,922.5 455.5,931.1 450.4,939.2 445.3,946.9 440.3,954.0 435.2,960.7 430.1,966.8 425.0,972.5 418.4,979.2 413.3,983.9 408.2,988.2 403.1,992.0 398.1,995.4 393.0,998.5 387.9,1001.1 382.8,1003.5 377.8,1005.5 372.7,1007.2"/>
<polygon fill="#ff6600" points="372.7,1013.5 372.7,1011.9 377.8,1011.8 382.8,1011.5 387.9,1011.2 393.0,1010.8 398.1,1010.1 403.1,1009.3 408.2,1008.1 413.3,1006.5 418.4,1004.6 423.4,1002.1 428.5,999.0 433.6,995.2 438.7,990.7 442.1,987.0 447.2,980.8 452.3,973.7 457.3,965.6 462.4,956.6 467.5,946.6 472.6,935.6 477.6,923.7 482.7,910.8 487.8,897.1 492.9,882.5 497.9,867.3 503.0,851.3 508.1,834.7 513.2,817.6 518.2,800.1 523.3,782.3 528.4,764.2 533.5,745.9 538.5,727.5 543.6,709.1 548.7,690.8 553.7,672.6 558.8,654.6 563.9,636.8 569.0,619.4 574.0,602.2 579.1,585.5 584.2,569.1 589.3,553.2 594.3,537.8 599.4,522.8 604.5,508.4 609.6,494.4 614.6,481.0 619.7,468.0 624.8,455.6 629.8,443.7 634.9,432.2 640.0,421.3 645.1,410.9 650.1,400.9 655.2,391.4 660.3,382.3 665.4,373.7 670.4,365.5 675.5,357.8 680.6,350.4 685.7,343.4 690.7,336.7 695.8,330.4 700.9,324.5 705.9,318.8 711.0,313.5 717.7,306.8 722.8,302.1 727.8,297.6 732.9,293.3 738.0,289.3 743.1,285.5 748.1,282.0 753.2,278.6 758.3,275.4 763.4,272.4 768.4,269.6 773.5,267.0 778.6,264.5 783.7,262.1 788.7,259.9 793.8,257.8 798.9,255.8 803.9,254.0 809.0,252.3 814.1,250.6 819.2,249.1 824.2,247.6 829.3,246.3 834.4,245.0 839.5,243.8 844.5,242.7 849.6,241.6 854.7,240.6 859.8,239.7 864.8,238.8 869.9,238.0 875.0,237.2 880.0,236.5 885.1,235.8 890.2,235.2 895.3,234.6 900.3,234.0 905.4,233.5 910.5,233.0 915.6,232.5 920.6,232.0 925.7,231.6 930.8,231.2 935.9,230.9 940.9,230.5 946.0,230.2 951.1,229.9 956.1,229.6 961.2,229.4 966.3,229.1 971.4,228.9 976.4,228.7 981.5,228.5 986.6,228.3 991.7,228.1 996.7,227.9 1001.8,227.7 1006.9,227.6 1012.0,227.5 1017.0,227.3 1022.1,227.2 1027.2,227.1 1032.2,227.0 1037.3,226.9 1042.4,226.8 1047.5,226.7 1052.5,226.6 1057.6,226.5 1062.7,226.4 1067.8,226.4 1072.8,226.3 1077.9,226.2 1083.0,226.2 1088.1,226.1 1093.1,226.1 1098.2,226.0 1103.3,226.0 1108.4,225.9 1113.4,225.9 1118.5,225.9 1123.6,225.8 1128.6,225.8 1133.7,225.8 1138.8,225.7 1143.9,225.7 1148.9,225.7 1154.0,225.7 1159.1,225.6 1164.2,225.6 1169.2,225.6 1174.3,225.6 1179.4,225.6 1184.5,225.5 1189.5,225.5 1194.6,225.5 1199.7,225.5 1204.7,225.5 1209.8,225.5 1214.9,225.5 1220.0,225.5 1225.0,225.4 1230.1,225.4 1235.2,225.4 1240.3,225.4 1245.3,225.4 1250.4,225.4 1255.5,225.4 1260.6,225.4 1265.6,225.4 1270.7,225.4 1275.8,225.4 1280.8,225.4 1285.9,225.4 1291.0,225.4 1296.1,225.4 1301.1,225.4 1306.2,225.4 1311.3,225.3 1316.4,225.3 1321.4,225.3 1326.5,225.3 1331.6,225.3 1336.7,225.3 1341.7,225.3 1346.8,225.3 1351.9,225.3 1357.0,225.3 1362.0,225.3 1367.1,225.3 1372.2,225.3 1377.2,225.3 1382.3,225.3 1387.4,225.3 1392.5,225.3 1397.5,225.3 1402.6,225.3 1407.7,225.3 1412.8,225.3 1417.8,225.3 1422.9,225.3 1428.0,225.3 1433.1,225.3 1438.1,225.3 1443.2,225.3 1448.3,225.3 1453.3,225.3 1458.4,225.3 1463.5,225.3 1468.6,225.3 1473.6,225.3 1478.7,225.3 1483.8,225.3 1488.9,225.3 1493.9,225.3 1499.0,225.3 1504.1,225.3 1509.2,225.3 1514.2,225.3 1519.3,225.3 1524.4,225.3 1529.4,225.3 1534.5,225.3 1539.6,225.3 1544.7,225.3 1549.7,225.3 1554.8,225.3 1559.9,225.3 1565.0,225.3 1570.0,225.3 1575.1,225.3 1580.2,225.3 1585.3,225.3 1590.3,225.3 1595.4,225.3 1600.5,225.3 1605.6,225.3 1610.6,225.3 1615.7,225.3 1620.8,225.3 1625.8,225.3 1630.9,225.3 1636.0,225.3 1641.1,225.3 1646.1,225.3 1651.2,225.3 1656.3,225.3 1661.4,225.3 1666.4,225.3 1671.5,225.3 1676.6,225.3 1681.7,225.3 1686.7,225.3 1691.8,225.3 1692.3,226.9 1691.8,228.5 1686.7,228.5 1681.7,228.5 1676.6,228.5 1671.5,228.5 1666.4,228.5 1661.4,228.5 1656.3,228.5 1651.2,228.5 1646.1,228.5 1641.1,228.5 1636.0,228.5 1630.9,228.5 1625.8,228.5 1620.8,228.5 1615.7,228.5 1610.6,228.5 1605.6,228.5 1600.5,228.5 1595.4,228.5 1590.3,228.5 1585.3,228.5 1580.2,228.5 1575.1,228.5 1570.0,228.5 1565.0,228.5 1559.9,228.5 1554.8,228.5 1549.7,228.5 1544.7,228.5 1539.6,228.5 1534.5,228.5 1529.4,228.5 1524.4,228.5 1519.3,228.5 1514.2,228.5 1509.2,228.5 1504.1,228.5 1499.0,228.5 1493.9,228.5 1488.9,228.5 1483.8,228.5 1478.7,228.5 1473.6,228.5 1468.6,228.5 1463.5,228.5 1458.4,228.5 1453.3,228.5 1448.3,228.5 1443.2,228.5 1438.1,228.5 1433.1,228.5 1428.0,228.5 1422.9,228.5 1417.8,228.5 1412.8,228.5 1407.7,228.5 1402.6,228.5 1397.5,228.5 1392.5,228.5 1387.4,228.5 1382.3,228.5 1377.2,228.5 1372.2,228.5 1367.1,228.5 1362.0,228.5 1357.0,228.5 1351.9,228.5 1346.8,228.5 1341.7,228.5 1336.7,228.5 1331.6,228.5 1326.5,228.5 1321.4,228.5 1316.4,228.5 1311.3,228.5 1306.2,228.6 1301.1,228.6 1296.1,228.6 1291.0,228.6 1285.9,228.6 1280.8,228.6 1275.8,228.6 1270.7,228.6 1265.6,228.6 1260.6,228.6 1255.5,228.6 1250.4,228.6 1245.3,228.6 1240.3,228.6 1235.2,228.6 1230.1,228.6 1225.0,228.6 1220.0,228.7 1214.9,228.7 1209.8,228.7 1204.7,228.7 1199.7,228.7 1194.6,228.7 1189.5,228.7 1184.5,228.7 1179.4,228.8 1174.3,228.8 1169.2,228.8 1164.2,228.8 1159.1,228.8 1154.0,228.9 1148.9,228.9 1143.9,228.9 1138.8,228.9 1133.7,229.0 1128.6,229.0 1123.6,229.0 1118.5,229.1 1113.4,229.1 1108.4,229.1 1103.3,229.2 1098.2,229.2 1093.1,229.3 1088.1,229.3 1083.0,229.4 1077.9,229.4 1072.8,229.5 1067.8,229.6 1062.7,229.6 1057.6,229.7 1052.5,229.8 1047.5,229.9 1042.4,230.0 1037.3,230.1 1032.2,230.2 1027.2,230.3 1022.1,230.4 1017.0,230.5 1012.0,230.7 1006.9,230.8 1001.8,230.9 996.7,231.1 991.7,231.3 986.6,231.5 981.5,231.7 976.4,231.9 971.4,232.1 966.3,232.3 961.2,232.6 956.1,232.8 951.1,233.1 946.0,233.4 940.9,233.7 935.9,234.1 930.8,234.4 925.7,234.8 920.6,235.2 915.6,235.7 910.5,236.2 905.4,236.7 900.3,237.2 895.3,237.8 890.2,238.4 885.1,239.0 880.0,239.7 875.0,240.4 869.9,241.2 864.8,242.0 859.8,242.9 854.7,243.8 849.6,244.8 844.5,245.9 839.5,247.0 834.4,248.2 829.3,249.5 824.2,250.8 819.2,252.3 814.1,253.8 809.0,255.5 803.9,257.2 798.9,259.0 793.8,261.0 788.7,263.1 783.7,265.3 778.6,267.7 773.5,270.2 768.4,272.8 763.4,275.6 758.3,278.6 753.2,281.8 748.1,285.2 743.1,288.7 738.0,292.5 732.9,296.5 727.8,300.8 722.8,305.3 717.7,310.0 714.2,313.5 709.1,318.8 704.1,324.5 699.0,330.4 693.9,336.7 688.9,343.4 683.8,350.4 678.7,357.8 673.6,365.5 668.6,373.7 663.5,382.3 658.4,391.4 653.3,400.9 648.3,410.9 643.2,421.3 638.1,432.2 633.0,443.7 628.0,455.6 622.9,468.0 617.8,481.0 612.8,494.4 607.7,508.4 602.6,522.8 597.5,537.8 592.5,553.2 587.4,569.1 582.3,585.5 577.2,602.2 572.2,619.4 567.1,636.8 562.0,654.6 556.9,672.6 551.9,690.8 546.8,709.1 541.7,727.5 536.7,745.9 531.6,764.2 526.5,782.3 521.4,800.1 516.4,817.6 511.3,834.7 506.2,851.3 501.1,867.3 496.1,882.5 491.0,897.1 485.9,910.8 480.8,923.7 475.8,935.6 470.7,946.6 465.6,956.6 460.5,965.6 455.5,973.7 450.4,980.8 445.3,987.0 438.7,993.9 433.6,998.4 428.5,1002.2 423.4,1005.3 418.4,1007.8 413.3,1009.7 408.2,1011.3 403.1,1012.5 398.1,1013.3 393.0,1014.0 387.9,1014.4 382.8,1014.7 377.8,1015.0 372.7,1015.1"/>
</g>
<g stroke="#ff0000" stroke-width="3.2" fill="none">
<path d="M500.5,786.7V749.5M490.9,749.5H510.1"/>
<path d="M541.5,752.8V727.0M531.9,727.0H551.1"/>
<path d="M664.5,697.0V572.0M654.9,572.0H674.1"/>
<path d="M744.5,492.3V389.8M734.9,389.8H754.1"/>
<path d="M828.5,445.8V402.4M818.9,402.4H838.1"/>
<path d="M953.5,430.0V385.0M943.9,385.0H963.1"/>
<path d="M1031.5,412.0V368.8M1021.9,368.8H1041.1"/>
<path d="M1114.5,404.8V365.8M1104.9,365.8H1124.1"/>
<path d="M1284.5,398.8V359.2M1274.9,359.2H1294.1"/>
<path d="M1407.5,395.5V364.3M1397.9,364.3H1417.1"/>
<path d="M1570.5,390.0V354.4M1560.9,354.4H1580.1"/>
<path d="M1692.5,390.0V354.4M1682.9,354.4H1702.1"/>
</g>
<g>
<circle cx="372.9" cy="1014.5" r="9.8" fill="#ff0000"/>
<circle cx="414.9" cy="1005.5" r="9.8" fill="#ff0000"/>
<circle cx="456.4" cy="898.5" r="9.8" fill="#ff0000"/>
<circle cx="500.2" cy="786.7" r="9.8" fill="#ff0000"/>
<circle cx="541.0" cy="752.8" r="9.8" fill="#ff0000"/>
<circle cx="664.8" cy="697.0" r="9.8" fill="#ff0000"/>
<circle cx="744.5" cy="492.3" r="9.8" fill="#ff0000"/>
<circle cx="828.0" cy="445.8" r="9.8" fill="#ff0000"/>
<circle cx="953.0" cy="430.0" r="9.8" fill="#ff0000"/>
<circle cx="1031.6" cy="412.0" r="9.8" fill="#ff0000"/>
<circle cx="1114.9" cy="404.8" r="9.8" fill="#ff0000"/>
<circle cx="1284.0" cy="398.8" r="9.8" fill="#ff0000"/>
<circle cx="1407.0" cy="395.5" r="9.8" fill="#ff0000"/>
<circle cx="1570.2" cy="390.0" r="9.8" fill="#ff0000"/>
<circle cx="1692.0" cy="390.0" r="9.8" fill="#ff0000"/>
</g>
<g stroke="#009966" stroke-width="3.2" fill="none">
<path d="M541.5,681.0V700.0M531.9,700.0H551.1"/>
<path d="M664.5,495.0V617.0M654.9,617.0H674.1"/>
<path d="M744.5,438.3V551.4M734.9,551.4H754.1"/>
<path d="M828.5,381.0V493.5M818.9,493.5H838.1"/>
<path d="M953.5,358.0V466.4M943.9,466.4H963.1"/>
<path d="M1031.5,348.0V458.3M1021.9,458.3H1041.1"/>
<path d="M1114.5,345.3V453.8M1104.9,453.8H1124.1"/>
<path d="M1284.5,339.0V445.8M1274.9,445.8H1294.1"/>
<path d="M1407.5,379.2V536.7M1397.9,536.7H1417.1"/>
<path d="M1570.5,334.2V437.5M1560.9,437.5H1580.1"/>
<path d="M1692.5,340.0V457.1M1682.9,457.1H1702.1"/>
</g>
<g>
<polygon points="372.9,1004.3 382.8,1014.5 372.9,1024.7 363.0,1014.5" fill="#009966"/>
<polygon points="414.9,999.8 424.8,1010.0 414.9,1020.2 405.0,1010.0" fill="#009966"/>
<polygon points="456.4,949.8 466.3,960.0 456.4,970.2 446.5,960.0" fill="#009966"/>
<polygon points="500.2,784.8 510.1,795.0 500.2,805.2 490.3,795.0" fill="#009966"/>
<polygon points="541.0,670.8 550.9,681.0 541.0,691.2 531.1,681.0" fill="#009966"/>
<polygon points="664.8,484.8 674.7,495.0 664.8,505.2 654.9,495.0" fill="#009966"/>
<polygon points="744.5,428.1 754.4,438.3 744.5,448.5 734.6,438.3" fill="#009966"/>
<polygon points="828.0,370.8 837.9,381.0 828.0,391.2 818.1,381.0" fill="#009966"/>
<polygon points="953.0,347.8 962.9,358.0 953.0,368.2 943.1,358.0" fill="#009966"/>
<polygon points="1031.6,337.8 1041.5,348.0 1031.6,358.2 1021.7,348.0" fill="#009966"/>
<polygon points="1114.9,335.1 1124.8,345.3 1114.9,355.5 1105.0,345.3" fill="#009966"/>
<polygon points="1284.0,328.8 1293.9,339.0 1284.0,349.2 1274.1,339.0" fill="#009966"/>
<polygon points="1407.0,369.0 1416.9,379.2 1407.0,389.4 1397.1,379.2" fill="#009966"/>
<polygon points="1570.2,324.0 1580.1,334.2 1570.2,344.4 1560.3,334.2" fill="#009966"/>
<polygon points="1692.0,329.8 1701.9,340.0 1692.0,350.2 1682.1,340.0" fill="#009966"/>
</g>
<g stroke="#000000" stroke-width="3.2" fill="none">
<path d="M953.5,142.0V130.6M943.9,130.6H963.1"/>
<path d="M1692.5,118.4V102.8M1682.9,102.8H1702.1"/>
</g>
<g>
<rect x="362.7" y="1004.1" width="20.4" height="20.8" fill="#000000"/>
<rect x="404.7" y="1002.4" width="20.4" height="20.8" fill="#000000"/>
<rect x="446.2" y="952.2" width="20.4" height="20.8" fill="#000000"/>
<rect x="490.0" y="802.7" width="20.4" height="20.8" fill="#000000"/>
<rect x="530.8" y="647.6" width="20.4" height="20.8" fill="#000000"/>
<rect x="654.6" y="256.8" width="20.4" height="20.8" fill="#000000"/>
<rect x="734.3" y="197.8" width="20.4" height="20.8" fill="#000000"/>
<rect x="817.8" y="147.5" width="20.4" height="20.8" fill="#000000"/>
<rect x="942.8" y="131.6" width="20.4" height="20.8" fill="#000000"/>
<rect x="1021.4" y="120.8" width="20.4" height="20.8" fill="#000000"/>
<rect x="1104.7" y="117.6" width="20.4" height="20.8" fill="#000000"/>
<rect x="1273.8" y="111.6" width="20.4" height="20.8" fill="#000000"/>
<rect x="1396.8" y="114.8" width="20.4" height="20.8" fill="#000000"/>
<rect x="1560.0" y="108.0" width="20.4" height="20.8" fill="#000000"/>
<rect x="1681.8" y="108.0" width="20.4" height="20.8" fill="#000000"/>
</g>
<g stroke="#0000cc" stroke-width="3.2" fill="none">
<path d="M500.5,848.3V836.0M490.9,836.0H510.1"/>
<path d="M541.5,680.3V666.5M531.9,666.5H551.1"/>
<path d="M664.5,381.0V252.2M654.9,252.2H674.1"/>
<path d="M744.5,310.3V186.8M734.9,186.8H754.1"/>
<path d="M828.5,259.7V120.7M818.9,120.7H838.1"/>
<path d="M953.5,118.0V90.6M943.9,90.6H963.1"/>
<path d="M1031.5,104.0V79.7M1021.9,79.7H1041.1"/>
<path d="M1114.5,108.8V87.2M1104.9,87.2H1124.1"/>
<path d="M1284.5,107.3V94.8M1274.9,94.8H1294.1"/>
<path d="M1570.5,96.8V88.3M1560.9,88.3H1580.1"/>
<path d="M1692.5,88.1V59.6M1682.9,59.6H1702.1"/>
</g>
<g>
<polygon points="362.6,1014.5 367.8,1005.4 378.0,1005.4 383.2,1014.5 378.0,1023.6 367.8,1023.6" fill="#0000cc"/>
<polygon points="404.6,1012.6 409.8,1003.5 420.0,1003.5 425.2,1012.6 420.0,1021.7 409.8,1021.7" fill="#0000cc"/>
<polygon points="446.1,972.8 451.2,963.7 461.5,963.7 466.7,972.8 461.5,981.9 451.2,981.9" fill="#0000cc"/>
<polygon points="489.9,848.3 495.1,839.2 505.3,839.2 510.5,848.3 505.3,857.4 495.1,857.4" fill="#0000cc"/>
<polygon points="530.7,680.3 535.9,671.2 546.1,671.2 551.3,680.3 546.1,689.4 535.9,689.4" fill="#0000cc"/>
<polygon points="654.5,381.0 659.6,371.9 669.9,371.9 675.1,381.0 669.9,390.1 659.6,390.1" fill="#0000cc"/>
<polygon points="734.2,310.3 739.4,301.2 749.6,301.2 754.8,310.3 749.6,319.4 739.4,319.4" fill="#0000cc"/>
<polygon points="817.7,259.7 822.9,250.6 833.1,250.6 838.3,259.7 833.1,268.8 822.9,268.8" fill="#0000cc"/>
<polygon points="942.7,118.0 947.9,108.9 958.1,108.9 963.3,118.0 958.1,127.1 947.9,127.1" fill="#0000cc"/>
<polygon points="1021.3,104.0 1026.4,94.9 1036.8,94.9 1041.9,104.0 1036.8,113.1 1026.4,113.1" fill="#0000cc"/>
<polygon points="1104.6,108.8 1109.8,99.7 1120.1,99.7 1125.2,108.8 1120.1,117.9 1109.8,117.9" fill="#0000cc"/>
<polygon points="1273.7,107.3 1278.8,98.2 1289.2,98.2 1294.3,107.3 1289.2,116.4 1278.8,116.4" fill="#0000cc"/>
<polygon points="1396.7,106.0 1401.8,96.9 1412.2,96.9 1417.3,106.0 1412.2,115.1 1401.8,115.1" fill="#0000cc"/>
<polygon points="1559.9,96.8 1565.0,87.7 1575.4,87.7 1580.5,96.8 1575.4,105.9 1565.0,105.9" fill="#0000cc"/>
<polygon points="1681.7,88.1 1686.8,79.0 1697.2,79.0 1702.3,88.1 1697.2,97.2 1686.8,97.2" fill="#0000cc"/>
</g>
<g stroke="#ff6600" stroke-width="3.2" fill="none">
<path d="M500.5,850.8V840.2M490.9,840.2H510.1"/>
<path d="M541.5,721.0V698.4M531.9,698.4H551.1"/>
<path d="M664.5,362.5V205.2M654.9,205.2H674.1"/>
<path d="M744.5,319.8V196.9M734.9,196.9H754.1"/>
<path d="M828.5,252.5V137.0M818.9,137.0H838.1"/>
<path d="M953.5,255.9V121.5M943.9,121.5H963.1"/>
<path d="M1031.5,233.9V109.4M1021.9,109.4H1041.1"/>
<path d="M1114.5,228.5V106.6M1104.9,106.6H1124.1"/>
<path d="M1284.5,222.2V103.3M1274.9,103.3H1294.1"/>
<path d="M1407.5,219.1V102.8M1397.9,102.8H1417.1"/>
<path d="M1570.5,213.0V100.3M1560.9,100.3H1580.1"/>
<path d="M1692.5,209.9V100.3M1682.9,100.3H1702.1"/>
</g>
<g>
<polygon points="372.9,1004.1 383.5,1024.8 362.3,1024.8" fill="#ff6600"/>
<polygon points="414.9,997.0 425.5,1017.7 404.3,1017.7" fill="#ff6600"/>
<polygon points="456.4,988.9 467.0,1009.6 445.8,1009.6" fill="#ff6600"/>
<polygon points="500.2,840.4 510.8,861.1 489.6,861.1" fill="#ff6600"/>
<polygon points="541.0,710.6 551.6,731.3 530.4,731.3" fill="#ff6600"/>
<polygon points="664.8,352.1 675.4,372.8 654.2,372.8" fill="#ff6600"/>
<polygon points="744.5,309.4 755.1,330.1 733.9,330.1" fill="#ff6600"/>
<polygon points="828.0,242.1 838.6,262.8 817.4,262.8" fill="#ff6600"/>
<polygon points="953.0,245.5 963.6,266.2 942.4,266.2" fill="#ff6600"/>
<polygon points="1031.6,223.5 1042.2,244.2 1021.0,244.2" fill="#ff6600"/>
<polygon points="1114.9,218.1 1125.5,238.8 1104.3,238.8" fill="#ff6600"/>
<polygon points="1284.0,211.8 1294.6,232.5 1273.4,232.5" fill="#ff6600"/>
<polygon points="1407.0,208.7 1417.6,229.4 1396.4,229.4" fill="#ff6600"/>
<polygon points="1570.2,202.6 1580.8,223.3 1559.6,223.3" fill="#ff6600"/>
<polygon points="1692.0,199.5 1702.6,220.2 1681.4,220.2" fill="#ff6600"/>
</g>
<g font-size="73" text-anchor="end" transform="scale(1 1.025)">
<text x="338.0" y="106.73">300</text>
<text x="338.0" y="197.29">270</text>
<text x="338.0" y="288.43">240</text>
<text x="338.0" y="379.57">210</text>
<text x="338.0" y="470.71">180</text>
<text x="338.0" y="561.27">150</text>
<text x="338.0" y="651.82">120</text>
<text x="338.0" y="741.80">90</text>
<text x="338.0" y="832.35">60</text>
<text x="338.0" y="922.91">30</text>
<text x="338.0" y="1013.27">0</text>
</g>
<g font-size="73" text-anchor="middle" transform="scale(1 1.025)">
<text x="373.8" y="1091.80">0</text>
<text x="578.9" y="1091.80">5</text>
<text x="785.9" y="1091.80">10</text>
<text x="990.4" y="1091.80">15</text>
<text x="1194.7" y="1091.80">20</text>
<text x="1399.0" y="1091.80">25</text>
<text x="1606.2" y="1091.80">30</text>
<text x="1812.7" y="1091.80">35</text>
</g>
<text transform="scale(1 1.025)" x="944.9 995.3 1011.8 1077.8 1122.0 1140.4 1169.5 1215.2" y="1190.63" font-size="80">Time (d)</text>
<text transform="translate(115.1 735.6) rotate(-90) scale(1 1.025)" x="0 53.4 71.7 100.5 146.5 167.9 206.6 251.0 273.5 324.8 378.8" y="0" font-size="80">B (L/kg TS)</text>
<rect x="1084.9" y="654.6" width="723.9" height="345.7" fill="#ffffff" stroke="#000" stroke-width="4.5"/>
<line x1="1136.7" y1="687.3" x2="1238.9" y2="687.3" stroke="#ff0000" stroke-width="3.2"/>
<circle cx="1188.8" cy="688.1" r="10.1" fill="#ff0000"/>
<text transform="scale(1 1.025)" x="1296.8 1342.7 1375.9 1393.6 1414.5 1449.7 1483.3 1502.5 1537.7 1571.0 1588.3 1648.4 1689.9" y="694.54" font-size="59.5">Untreated WPD</text>
<line x1="1136.7" y1="751.4" x2="1238.9" y2="751.4" stroke="#009966" stroke-width="3.2"/>
<polygon points="1188.8,742.1 1197.8,752.3 1188.8,762.5 1179.9,752.3" fill="#009966"/>
<text transform="scale(1 1.025)" x="1296.9 1341.0 1372.8 1388.1 1421.0 1440.7 1477.1 1531.0 1551.8 1613.2 1656.6" y="756.78" font-size="59.5">Acid 1% WPD</text>
<line x1="1136.7" y1="818.0" x2="1238.9" y2="818.0" stroke="#000000" stroke-width="3.2"/>
<rect x="1178.5" y="809.1" width="20.7" height="20.6" fill="#000000"/>
<text transform="scale(1 1.025)" x="1296.9 1341.0 1372.8 1388.1 1421.0 1440.7 1477.1 1531.0 1551.8 1613.2 1656.6" y="822.15" font-size="59.5">Acid 2% WPD</text>
<line x1="1136.7" y1="893.7" x2="1238.9" y2="893.7" stroke="#0000cc" stroke-width="3.2"/>
<polygon points="1179.8,894.3 1184.3,885.4 1193.4,885.4 1197.9,894.3 1193.4,903.2 1184.3,903.2" fill="#0000cc"/>
<text transform="scale(1 1.025)" x="1296.9 1341.0 1372.8 1388.1 1421.0 1440.7 1477.1 1531.0 1551.8 1613.2 1656.6" y="895.51" font-size="59.5">Acid 3% WPD</text>
<line x1="1138.7" y1="967.4" x2="1240.9" y2="967.4" stroke="#ff6600" stroke-width="3.2"/>
<polygon points="1190.8,957.8 1201.4,978.5 1180.2,978.5" fill="#ff6600"/>
<text transform="scale(1 1.025)" x="1299.4 1343.5 1375.3 1390.6 1423.5 1443.2 1479.6 1533.5 1554.3 1615.7 1659.1" y="967.61" font-size="59.5">Acid 4% WPD</text>
</g>
</svg></body></html>
